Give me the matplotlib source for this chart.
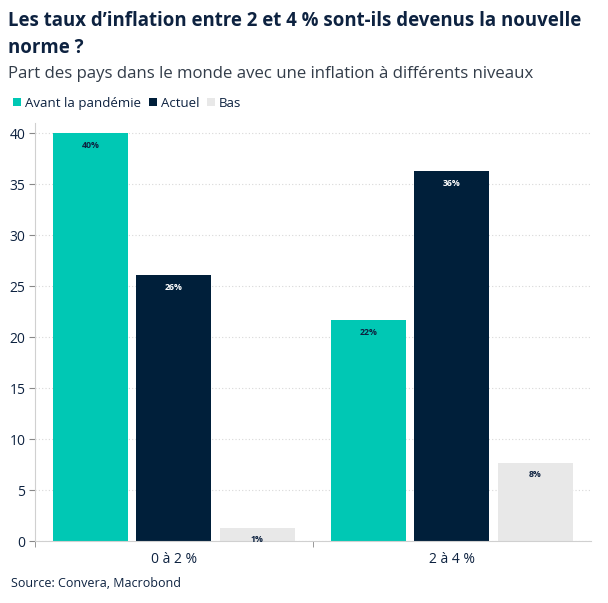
import matplotlib.pyplot as plt
import numpy as np

plt.rcParams['font.family'] = ['Open Sans', 'DejaVu Sans']

categories = ['0 à 2 %', '2 à 4 %']
series_names = ['Avant la pandémie', 'Actuel', 'Bas']
avant = [40.0, 21.7]
actuel = [26.1, 36.3]
bas = [1.3, 7.7]
bar_labels = [['40%', '22%'], ['26%', '36%'], ['1%', '8%']]

colors = ['#00c8b4', '#001f3a', '#e8e8e8']
text_colors = ['#0d2240', 'white', '#0d2240']
navy = '#0d2240'

fig = plt.figure(figsize=(6.08, 6.03), dpi=100)
ax = fig.add_axes([0.0576, 0.1028, 0.914, 0.693])

x = np.arange(len(categories))
width = 0.27
offsets = [-0.30, 0.0, 0.30]
for i, vals in enumerate([avant, actuel, bas]):
    bars = ax.bar(x + offsets[i], vals, width, color=colors[i], zorder=2,
                  label=series_names[i])
    for b, lab in zip(bars, bar_labels[i]):
        ax.text(b.get_x() + b.get_width() / 2, b.get_height() - 1.2, lab,
                ha='center', va='center', fontsize=6.3, fontweight='bold',
                color=text_colors[i], zorder=3)

ax.set_xlim(-0.5, 1.5)
ax.set_ylim(0, 41)
ax.set_yticks([0, 5, 10, 15, 20, 25, 30, 35, 40])
ax.set_xticks(x)
ax.set_xticklabels(categories)
ax.set_xticks([-0.5, 0.5], minor=True)
ax.tick_params(axis='x', which='major', length=0, labelsize=10, labelcolor=navy, pad=8)
ax.tick_params(axis='x', which='minor', length=4, color='#888888')
ax.tick_params(axis='y', length=4, color='#888888', labelsize=10, labelcolor=navy, pad=3)
ax.grid(axis='y', linestyle=(0, (1, 2)), color='#d8d8d8', linewidth=0.8, zorder=0)
for s in ['top', 'right']:
    ax.spines[s].set_visible(False)
ax.spines['left'].set_color('#d0d0d0')
ax.spines['bottom'].set_color('#d0d0d0')

fig.text(0.013, 0.982, 'Les taux d’inflation entre 2 et 4 % sont-ils devenus la nouvelle\nnorme ?',
         ha='left', va='top', fontsize=13.4, fontweight='bold', color=navy, linespacing=1.45)
fig.text(0.013, 0.877, 'Part des pays dans le monde avec une inflation à différents niveaux',
         ha='left', va='center', fontsize=12.1, color='#333d4a')

fig.legend(loc='center left', bbox_to_anchor=(0.002, 0.829), ncol=3, frameon=False,
           fontsize=9.5, handlelength=0.6, handleheight=0.6, handletextpad=0.3,
           columnspacing=0.6, labelcolor=navy)

fig.text(0.018, 0.033, 'Source: Convera, Macrobond', ha='left', va='center',
         fontsize=9, color=navy)

fig.savefig('out.png', dpi=100)
